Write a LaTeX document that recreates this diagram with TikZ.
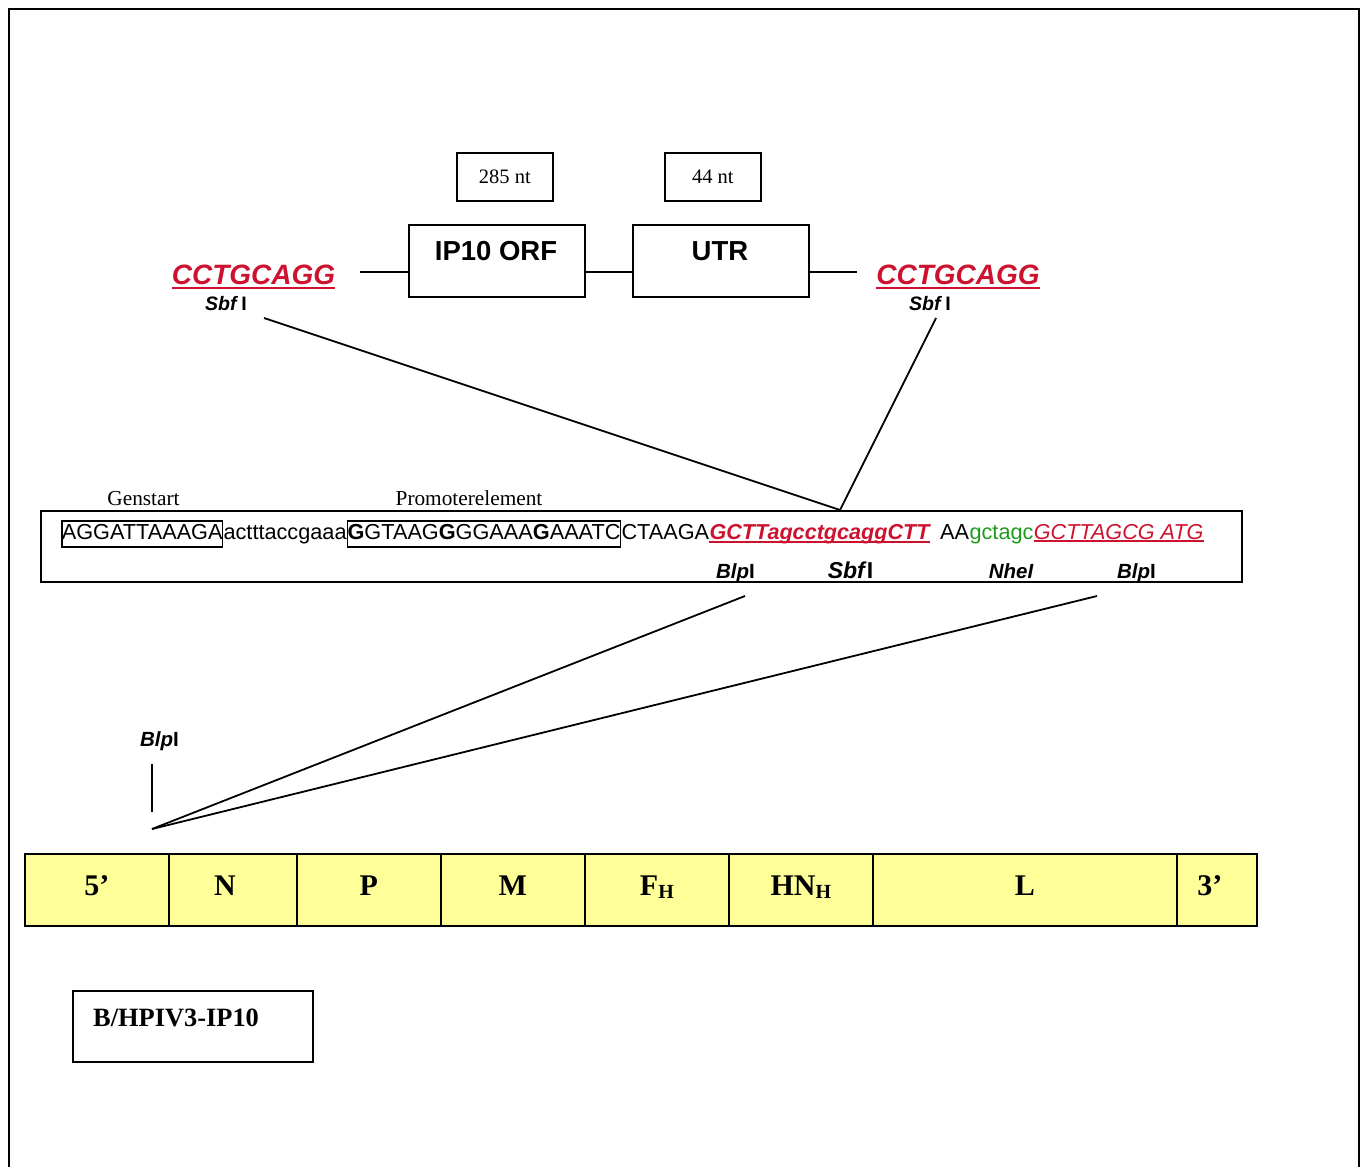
\documentclass[tikz,border=0pt]{standalone}
\usepackage{fontspec}
\setmainfont{Liberation Serif}
\newfontfamily\arial{Liberation Sans}
\usetikzlibrary{calc}
\definecolor{dred}{RGB}{205,18,48}
\definecolor{dgreen}{RGB}{30,155,30}
\definecolor{gyellow}{RGB}{255,255,153}
\newcommand\fs[1]{\fontsize{#1}{#1}\selectfont}
\begin{document}
\begin{tikzpicture}[x=1pt,y=-1pt,
  ln/.style={line width=1.8pt},
  ntbox/.style={draw, line width=1.8pt, minimum width=96pt, minimum height=48pt, inner sep=0, anchor=north west, font=\fs{20.5}},
  genebox/.style={draw, line width=1.8pt, minimum width=176pt, minimum height=72pt, inner sep=0, anchor=north west},
  genelab/.style={font=\arial\bfseries\fs{27.5}, inner sep=0},
  site/.style={font=\arial\bfseries\itshape\fs{28}, text=dred, anchor=base, inner sep=0},
  enz/.style={font=\arial\bfseries\fs{19.5}, anchor=base, inner sep=0},
  seq/.style={font=\arial\fs{21.7}, anchor=base west, inner sep=0, text height=18pt, text depth=8pt},
  seqframe/.style={draw, line width=1.6pt},
  uline/.style={dred, line width=2.6pt},
  seg/.style={draw, line width=1.8pt, fill=gyellow, minimum height=72pt, inner sep=0, anchor=north west},
  seglab/.style={font=\bfseries\fs{30}, inner sep=0},
  conn/.style={line width=1.8pt}
]
\useasboundingbox (0,0) rectangle (1363,1167);
% outer frame
\draw[line width=2.4pt] (9,1170) -- (9,9) -- (1359,9) -- (1359,1170);

% top construct
\node[ntbox] (n285) at (456,152) {285 nt};
\node[ntbox] (n44) at (664,152) {44 nt};
\node[genebox] (orf) at (408,224) {};
\node[genelab] (orfT) at (496,251) {IP10 ORF};
\node[genebox] (utr) at (632,224) {};
\node[genelab] (utrT) at (720,251) {UTR};
\coordinate (hy) at (0,272);
\coordinate (lL) at (360,272);
\coordinate (lR) at (857,272);
\draw[ln] (lL) -- (orf.west|-hy);
\draw[ln] (orf.east|-hy) -- (utr.west|-hy);
\draw[ln] (utr.east|-hy) -- (lR);

\node[site] (siteL) at (253.5,284) {CCTGCAGG};
\draw[uline] ([yshift=-4pt]siteL.base west) -- ([yshift=-4pt]siteL.base east);
\node[enz] (sbfL) at (226,310) {\textit{Sbf}\,I};
\node[site] (siteR) at (958,284) {CCTGCAGG};
\draw[uline] ([yshift=-4pt]siteR.base west) -- ([yshift=-4pt]siteR.base east);
\node[enz] (sbfR) at (930,310) {\textit{Sbf}\,I};

\coordinate (aL) at (264,318);
\coordinate (aR) at (936,318);
\coordinate (J) at (840,510);
\draw[conn] (aL) -- (J);
\draw[conn] (aR) -- (J);

% sequence box
\node[draw, line width=1.8pt, minimum width=1201pt, minimum height=71pt, inner sep=0, anchor=north west] (seqbox) at (40,510) {};
\node[anchor=base, inner sep=0, font=\fs{21.3}] (gs) at (143.5,505) {Genstart};
\node[anchor=base, inner sep=0, font=\fs{21.3}] (pe) at (469,505) {Promoterelement};

\node[seq, seqframe] (s1) at (61,539) {AGGATTAAAGA};
\node[seq] (s2) at (s1.base east) {actttaccgaaa};
\node[seq, seqframe] (s3) at (s2.base east) {{\bfseries G}GTAAG{\bfseries G}GGAAA{\bfseries G}AAATC};
\node[seq] (s4) at (s3.base east) {CTAAGA};
\node[seq, text=dred, font=\arial\bfseries\itshape\fs{21.6}] (s5) at (s4.base east) {GCTTagcctgcaggCTT};
\draw[uline] ([yshift=-3pt]s5.base west) -- ([yshift=-3pt]s5.base east);
\node[seq] (s6) at (940,539) {AA};
\node[seq, text=dgreen] (s7) at (s6.base east) {gctagc};
\node[seq, text=dred, font=\arial\itshape\fs{21.6}] (s8) at (s7.base east) {GCTTAGCG ATG};
\draw[uline] ([yshift=-2pt]s8.base west) -- ([yshift=-2pt]s8.base east);

\node[enz, font=\arial\bfseries\fs{20.5}] (blp1) at (735.5,578) {\textit{Blp}I};
\node[enz, font=\arial\bfseries\fs{23}] (sbf2) at (850.5,578) {\textit{Sbf}I};
\node[enz, font=\arial\bfseries\itshape\fs{20.5}] (nhe) at (1011,578) {NheI};
\node[enz, font=\arial\bfseries\fs{20.5}] (blp2) at (1136.5,578) {\textit{Blp}I};

\coordinate (b1) at (745,596);
\coordinate (b2) at (1097,596);
\coordinate (G) at (152,829);
\draw[conn] (b1) -- (G);
\draw[conn] (b2) -- (G);

% BlpI marker on genome
\node[enz, font=\arial\bfseries\fs{20.5}] (blp3) at (159.5,746) {\textit{Blp}I};
\coordinate (t1) at (152,764);
\coordinate (t2) at (152,812);
\draw[conn] (t1) -- (t2);

% genome bar
\node[seg, minimum width=144pt] (g5) at (24,853) {};
\node[seg, minimum width=128pt] (gN) at (168,853) {};
\node[seg, minimum width=144pt] (gP) at (296,853) {};
\node[seg, minimum width=144pt] (gM) at (440,853) {};
\node[seg, minimum width=144pt] (gF) at (584,853) {};
\node[seg, minimum width=144pt] (gHN) at (728,853) {};
\node[seg, minimum width=304pt] (gL) at (872,853) {};
\node[seg, minimum width=80pt] (g3) at (1176,853) {};
\node[seglab, anchor=base] at ([yshift=-6pt]g5.center) {5’};
\node[seglab, anchor=base] at ([xshift=-8pt,yshift=-6pt]gN.center) {N};
\node[seglab, anchor=base] at ([yshift=-6pt]gP.center) {P};
\node[seglab, anchor=base] at ([yshift=-6pt]gM.center) {M};
\node[seglab, anchor=base] at ([yshift=-6pt]gF.center) {F\raisebox{-3pt}{\fs{20}H}};
\node[seglab, anchor=base] at ([yshift=-6pt]gHN.center) {HN\raisebox{-3pt}{\fs{20}H}};
\node[seglab, anchor=base] at ([yshift=-6pt]gL.center) {L};
\node[seglab, anchor=base] at ([xshift=-7pt,yshift=-6pt]g3.center) {3’};

% name box
\node[draw, line width=1.8pt, minimum width=240pt, minimum height=71pt, inner sep=0, anchor=north west] (name) at (72,990) {};
\node[anchor=base west, inner sep=0, font=\bfseries\fs{26.4}] (nameT) at (93,1026) {B/HPIV3-IP10};
\end{tikzpicture}
\end{document}
